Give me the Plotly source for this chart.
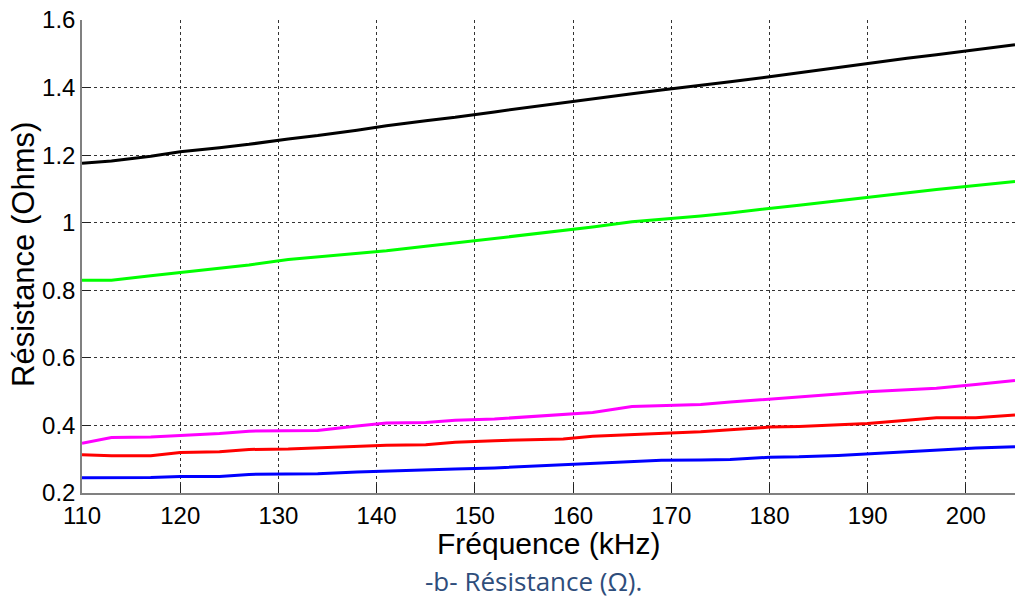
import plotly.graph_objects as go

freq = [110, 113, 117, 120, 124, 127, 131, 134, 138, 141, 145, 148, 152, 155,
        159, 162, 166, 169, 173, 176, 180, 183, 187, 190, 194, 197, 201, 205]

r_black = [1.176, 1.183, 1.197, 1.210, 1.222, 1.232, 1.248, 1.258, 1.274, 1.287,
           1.302, 1.312, 1.328, 1.340, 1.356, 1.367, 1.382, 1.393, 1.406, 1.417,
           1.432, 1.444, 1.460, 1.472, 1.487, 1.497, 1.512, 1.527]
r_green = [0.830, 0.830, 0.843, 0.852, 0.864, 0.875, 0.891, 0.899, 0.909, 0.917,
           0.930, 0.940, 0.954, 0.963, 0.976, 0.987, 1.003, 1.010, 1.020, 1.029,
           1.041, 1.052, 1.065, 1.075, 1.089, 1.098, 1.110, 1.122]
r_magenta = [0.347, 0.364, 0.366, 0.370, 0.376, 0.383, 0.384, 0.385, 0.398, 0.407,
             0.409, 0.415, 0.419, 0.425, 0.433, 0.438, 0.456, 0.458, 0.462, 0.469,
             0.477, 0.484, 0.493, 0.500, 0.506, 0.510, 0.521, 0.533]
r_red = [0.313, 0.310, 0.310, 0.320, 0.322, 0.329, 0.330, 0.333, 0.339, 0.341,
         0.343, 0.350, 0.355, 0.357, 0.360, 0.368, 0.373, 0.377, 0.381, 0.387,
         0.395, 0.397, 0.402, 0.406, 0.415, 0.423, 0.423, 0.431]
r_blue = [0.245, 0.245, 0.246, 0.249, 0.249, 0.255, 0.257, 0.257, 0.262, 0.265,
          0.270, 0.271, 0.274, 0.278, 0.283, 0.286, 0.293, 0.297, 0.298, 0.299,
          0.306, 0.307, 0.311, 0.316, 0.323, 0.328, 0.333, 0.337]

x_ticks = [110, 120, 130, 140, 150, 160, 170, 180, 190, 200]
y_ticks = [0.2, 0.4, 0.6, 0.8, 1.0, 1.2, 1.4, 1.6]
y_tick_text = ["0.2", "0.4", "0.6", "0.8", "1", "1.2", "1.4", "1.6"]

series = [
    (r_black, "#000000"),
    (r_green, "#00ff00"),
    (r_magenta, "#ff00ff"),
    (r_red, "#ff0000"),
    (r_blue, "#0000ff"),
]

fig = go.Figure()
for vals, col in series:
    fig.add_trace(go.Scatter(x=freq, y=vals, mode="lines",
                             line=dict(color=col, width=3), showlegend=False))

tick_font = dict(family="Liberation Sans, Arial, sans-serif", size=24, color="#000000")

fig.update_layout(
    width=1017, height=599,
    margin=dict(l=82, r=2, t=20, b=106),
    paper_bgcolor="white", plot_bgcolor="white",
    xaxis=dict(range=[110, 205], tickvals=x_ticks, ticks="inside", ticklen=9,
               tickcolor="#222222", tickwidth=1, showline=True, linecolor="#808080",
               linewidth=1.5, showgrid=True, gridcolor="#333333", griddash="dot",
               gridwidth=1, zeroline=False, tickfont=tick_font, automargin=False),
    yaxis=dict(range=[0.2, 1.6], tickvals=y_ticks, ticktext=y_tick_text,
               ticks="inside", ticklen=9, tickcolor="#222222", tickwidth=1,
               showline=True, linecolor="#808080", linewidth=1.5, showgrid=True,
               gridcolor="#333333", griddash="dot", gridwidth=1, zeroline=False,
               tickfont=tick_font, automargin=False),
    annotations=[
        dict(text="Fréquence (kHz)", xref="paper", yref="paper",
             x=(548 - 82) / 933, y=-50 / 473, xanchor="center", yanchor="middle",
             showarrow=False,
             font=dict(family="Liberation Sans, Arial, sans-serif", size=30, color="#000000")),
        dict(text="Résistance (Ohms)", xref="paper", yref="paper",
             x=(24 - 82) / 933, y=(493 - 255) / 473, xanchor="center", yanchor="middle",
             textangle=-90, showarrow=False,
             font=dict(family="Liberation Sans, Arial, sans-serif", size=31, color="#000000")),
        dict(text="-b- Résistance (Ω).", xref="paper", yref="paper",
             x=(533 - 82) / 933, y=-88 / 473, xanchor="center", yanchor="middle",
             showarrow=False,
             font=dict(family="Open Sans, Lato, sans-serif", size=26, color="#2e4d7b")),
    ],
)

fig.write_html("out.html", config={"displayModeBar": False},
               post_script="document.body.style.margin='0';document.body.style.overflow='hidden';")
